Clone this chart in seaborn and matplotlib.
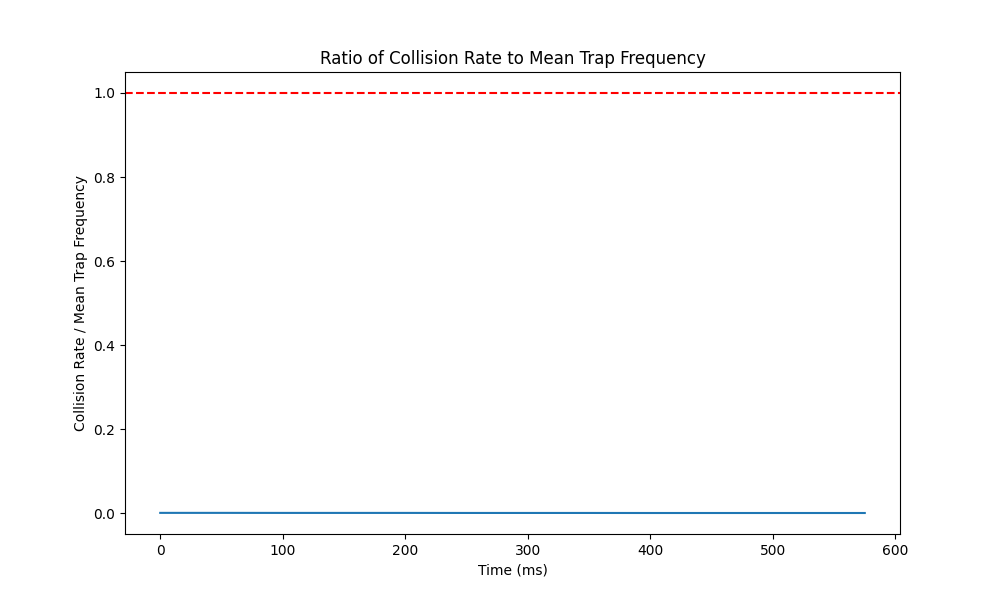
import matplotlib
matplotlib.use("Agg")
import matplotlib.pyplot as plt
import seaborn as sns
import pandas as pd

# Time points (ms) and collision rate / mean trap frequency ratio
time_ms = [0, 50, 100, 150, 200, 250, 300, 350, 400, 450, 500, 550, 575]
ratio = [0.0008, 0.0008, 0.0007, 0.0007, 0.0007, 0.0006, 0.0006, 0.0006, 0.0005, 0.0005, 0.0005, 0.0005, 0.0005]
threshold = 1.0

df = pd.DataFrame({"time": time_ms, "ratio": ratio})

fig, ax = plt.subplots(figsize=(10, 6), dpi=100)
sns.lineplot(data=df, x="time", y="ratio", ax=ax, color="#1f77b4")
ax.axhline(threshold, color="red", linestyle="--")

ax.set_title("Ratio of Collision Rate to Mean Trap Frequency")
ax.set_xlabel("Time (ms)")
ax.set_ylabel("Collision Rate / Mean Trap Frequency")

fig.savefig("out.png")
